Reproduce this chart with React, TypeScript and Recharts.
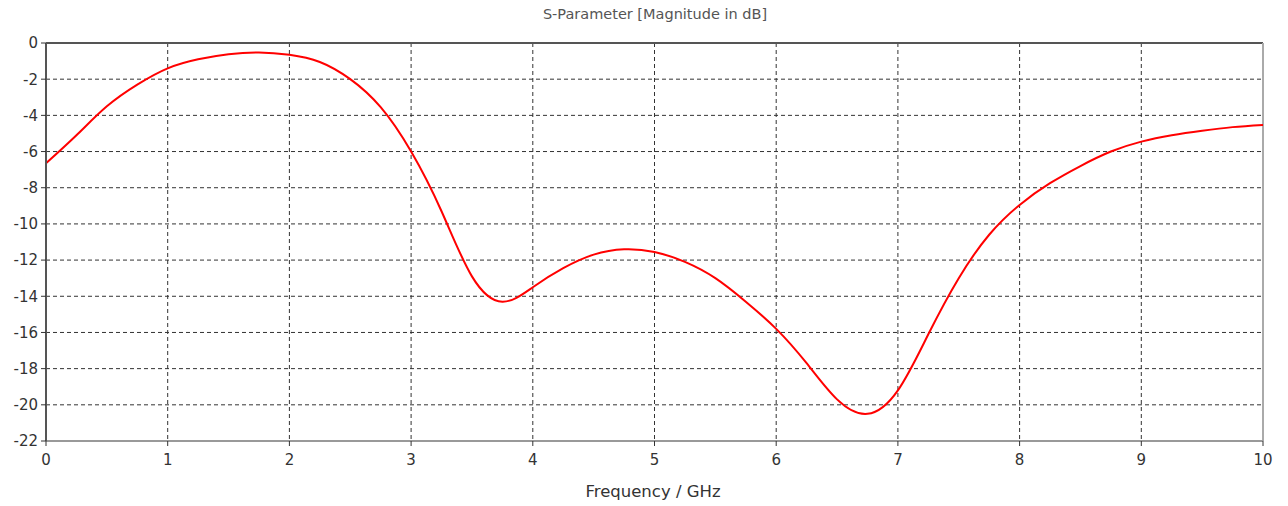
import { LineChart, Line, XAxis, YAxis, CartesianGrid, ReferenceLine } from "recharts"

// frequency in GHz
const freq = [
  0, 0.25, 0.5, 0.75, 1.0, 1.25, 1.5, 1.75, 2.0, 2.25, 2.5, 2.75, 3.0, 3.25, 3.5, 3.75, 4.0, 4.25,
  4.5, 4.75, 5.0, 5.25, 5.5, 5.75, 6.0, 6.25, 6.5, 6.75, 7.0, 7.25, 7.5, 7.75, 8.0, 8.25, 8.5, 8.75,
  9.0, 9.25, 9.5, 9.75, 10,
]

// |S| in dB
const magnitude = [
  -6.65, -5.1, -3.5, -2.3, -1.4, -0.9, -0.62, -0.52, -0.65, -1.05, -2.0, -3.55, -6.0, -9.3, -12.9,
  -14.3, -13.5, -12.45, -11.7, -11.4, -11.55, -12.1, -13.0, -14.3, -15.8, -17.7, -19.7, -20.5,
  -19.2, -16.1, -13.0, -10.6, -8.95, -7.75, -6.8, -6.0, -5.45, -5.1, -4.85, -4.65, -4.53,
]

const xTicks = [0, 1, 2, 3, 4, 5, 6, 7, 8, 9, 10]
const yTicks = [0, -2, -4, -6, -8, -10, -12, -14, -16, -18, -20, -22]

const data = freq.map((f, i) => ({ f, db: magnitude[i] }))

const font = "Tahoma, 'DejaVu Sans', sans-serif"

export default function App() {
  return (
    <div style={{ position: "absolute", left: 0, top: 0, width: 1288, height: 506, background: "#fff" }}>
      <div
        style={{
          position: "absolute",
          top: 6,
          left: 0,
          width: 1310,
          textAlign: "center",
          fontFamily: font,
          fontSize: 14.5,
          color: "#555",
        }}
      >
        S-Parameter [Magnitude in dB]
      </div>
      <div
        style={{
          position: "absolute",
          top: 482,
          left: 0,
          width: 1306,
          textAlign: "center",
          fontFamily: font,
          fontSize: 16.5,
          color: "#333",
        }}
      >
        Frequency / GHz
      </div>
      <LineChart width={1288} height={506} data={data} margin={{ top: 43, right: 25, left: 0, bottom: 0 }}>
        <CartesianGrid stroke="#333" strokeDasharray="4 3" verticalValues={xTicks} horizontalValues={yTicks} />
        <XAxis
          dataKey="f"
          type="number"
          domain={[0, 10]}
          ticks={xTicks}
          height={65}
          axisLine={{ stroke: "#999", strokeWidth: 2 }}
          tickLine={{ stroke: "#333" }}
          tickSize={5}
          tick={{ fill: "#333", fontSize: 15, fontFamily: font }}
          tickMargin={8}
        />
        <YAxis
          type="number"
          domain={[-22, 0]}
          ticks={yTicks}
          width={46}
          interval={0}
          axisLine={{ stroke: "#555", strokeWidth: 2 }}
          tickLine={{ stroke: "#333" }}
          tickSize={5}
          tick={{ fill: "#333", fontSize: 15, fontFamily: font }}
          tickMargin={3}
        />
        <ReferenceLine y={0} stroke="#555" strokeWidth={2} />
        <ReferenceLine x={10} stroke="#aaa" strokeWidth={2} />
        <Line
          type="natural"
          dataKey="db"
          stroke="#ff0000"
          strokeWidth={2}
          dot={false}
          isAnimationActive={false}
        />
      </LineChart>
    </div>
  )
}
